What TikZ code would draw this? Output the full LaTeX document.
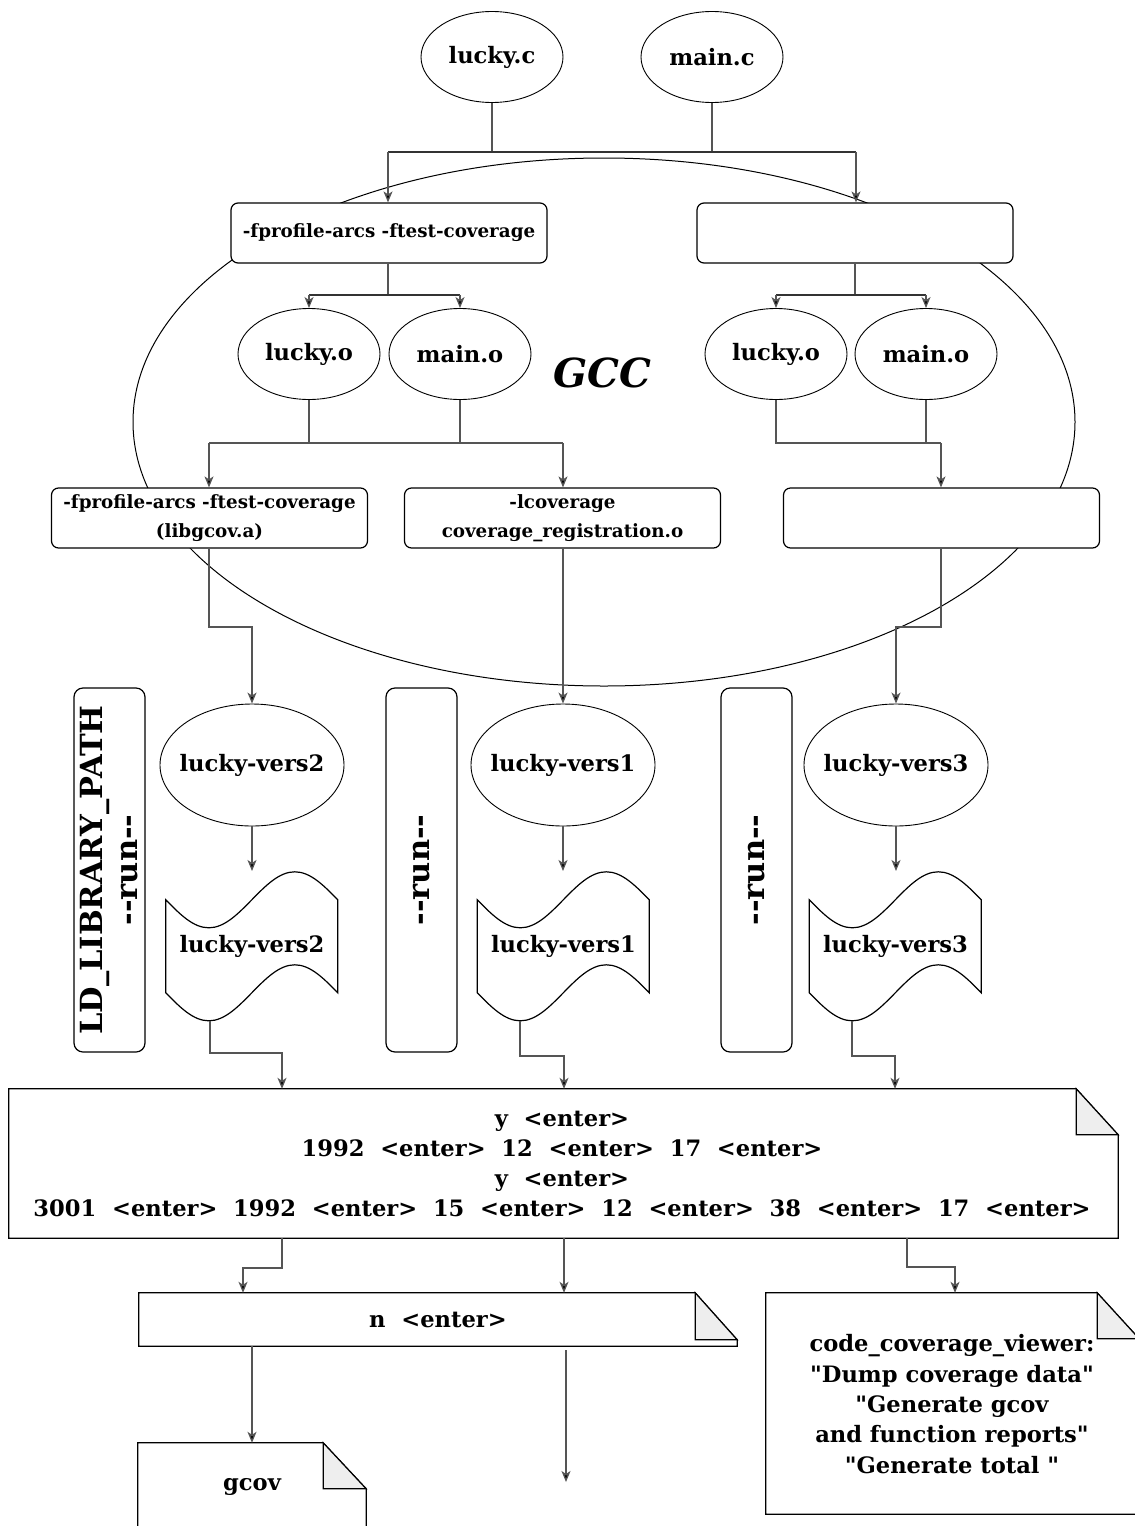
\documentclass[tikz,border=0pt]{standalone}
\usepackage{fontspec}
\setmainfont{DejaVu Serif}
\newfontfamily\dv{DejaVu Serif}
\usetikzlibrary{shapes.geometric,arrows.meta,calc}
\definecolor{lc}{HTML}{555555}
\definecolor{foldc}{HTML}{EEEEEE}
\begin{document}
\begin{tikzpicture}[x=1pt,y=-1pt,
  txt/.style={font=\dv\bfseries\fontsize{22.6}{30.3}\selectfont,align=center,inner sep=0pt},
  stxt/.style={font=\dv\bfseries\fontsize{18.3}{29}\selectfont,align=center,inner sep=0pt},
  ell/.style={ellipse,draw,line width=0.9pt,fill=white,minimum width=142pt,minimum height=91pt,inner sep=0pt,txt},
  bell/.style={ellipse,draw,line width=0.9pt,fill=white,minimum width=184pt,minimum height=122pt,inner sep=0pt,txt},
  rbox/.style={rectangle,rounded corners=7pt,draw,line width=1.2pt,fill=white,minimum width=316pt,minimum height=60pt,inner sep=0pt,stxt},
  vbox/.style={rectangle,rounded corners=9pt,draw,line width=1.2pt,fill=white,minimum width=364pt,minimum height=71pt,inner sep=0pt,rotate=90,
     font=\dv\bfseries\fontsize{30.5}{35}\selectfont,align=center},
  plain/.style={rectangle,draw=none,inner sep=0pt,txt},
  shp/.style={draw,line width=1.2pt,fill=white},
  fld/.style={draw,line width=1.2pt,fill=foldc},
  conn/.style={draw=lc,line width=1.3pt},
  bar/.style={draw=black!80,line width=2.4pt},
  arr/.style={draw=lc,line width=1.3pt,-{Stealth[length=11pt,width=9pt,inset=3pt,fill=black]}},
]
\useasboundingbox (0,0) rectangle (1135,1526);
\clip (0,0) rectangle (1135,1526);
\fill[white] (0,0) rectangle (1135,1526);

% GCC ellipse (behind)
\node[ellipse,draw,line width=1pt,minimum width=942pt,minimum height=528pt,inner sep=0pt] (gcc) at (604,422) {};
\node[font=\dv\bfseries\itshape\fontsize{40}{40}\selectfont,inner sep=0pt] (gcclab) at (602,373) {GCC};

% sources
\node[ell] (luckyc) at (492,57) {lucky.c};
\node[ell] (mainc) at (712,57) {main.c};

% compile boxes
\node[rbox] (box1) at (389,233) {-fprofile-arcs -ftest-coverage};
\node[rbox] (box2) at (855,233) {};

% objects
\node[ell] (lo1) at (309,354) {lucky.o};
\node[ell] (mo1) at (460,354) {main.o};
\node[ell] (lo2) at (776,354) {lucky.o};
\node[ell] (mo2) at (926,354) {main.o};

% link boxes
\node[rbox] (box3) at (209.5,518) {-fprofile-arcs -ftest-coverage\\(libgcov.a)};
\node[rbox] (box4) at (562.5,518) {-lcoverage\\coverage\_registration.o};
\node[rbox] (box5) at (941.5,518) {};

% binaries
\node[bell] (v2) at (252,765) {};
\node[bell] (v1) at (563,765) {};
\node[bell] (v3) at (896,765) {};
\node[txt] (v2l) at (v2) {lucky-vers2};
\node[txt] (v1l) at (v1) {lucky-vers1};
\node[txt] (v3l) at (v3) {lucky-vers3};

% run boxes
\node[vbox] (ld) at (109.5,870) {LD\_LIBRARY\_PATH\\-{}-run-{}-};
\node[vbox] (run1) at (421.5,870) {-{}-run-{}-};
\node[vbox] (run2) at (756.5,870) {-{}-run-{}-};

% tapes
\newcommand\tapeshape[1]{%
  \draw[shp] (#1.north west) ++(0,28) sin ++(43,28) cos ++(43,-28) sin ++(43,-28) cos ++(43,28)
    -- ++(0,93) sin ++(-43,-28) cos ++(-43,28) sin ++(-43,28) cos ++(-43,-28) -- cycle;}
\node[plain,minimum width=172pt,minimum height=149pt] (t2) at (252,946.5) {};
\node[plain,minimum width=172pt,minimum height=149pt] (t1) at (563.5,946.5) {};
\node[plain,minimum width=172pt,minimum height=149pt] (t3) at (895.5,946.5) {};
\tapeshape{t2}\tapeshape{t1}\tapeshape{t3}
\node[txt] (t2l) at (t2) {lucky-vers2};
\node[txt] (t1l) at (t1) {lucky-vers1};
\node[txt] (t3l) at (t3) {lucky-vers3};

% notes
\newcommand\noteshape[3]{% node, fold w, fold h
  \draw[shp] (#1.north west) -- ([xshift=-#2pt]#1.north east) -- ([yshift=-#3pt]#1.north east) -- (#1.south east) -- (#1.south west) -- cycle;
  \draw[fld] ([xshift=-#2pt]#1.north east) -- ([xshift=-#2pt,yshift=-#3pt]#1.north east) -- ([yshift=-#3pt]#1.north east) -- cycle;}
\node[plain,minimum width=1109pt,minimum height=149pt] (inp) at (563.5,1163.5) {};
\noteshape{inp}{42}{46}
\node[txt] (inpl) at (562,1164) {y~~<enter>\\1992~~<enter>~~12~~<enter>~~17~~<enter>\\y~~<enter>\\3001~~<enter>~~1992~~<enter>~~15~~<enter>~~12~~<enter>~~38~~<enter>~~17~~<enter>};

\node[plain,minimum width=598pt,minimum height=53pt] (nn) at (438,1319.5) {};
\noteshape{nn}{42}{47}
\node[txt] (nnl) at (438,1319.5) {n~~<enter>};

\node[plain,minimum width=228pt,minimum height=110pt] (gc) at (252,1498) {};
\noteshape{gc}{43}{46}
\node[txt] (gcl) at (252,1487) {gcov};

\node[plain,minimum width=373pt,minimum height=221pt] (cv) at (952.5,1403.5) {};
\noteshape{cv}{42}{46}
\node[txt] (cvl) at (952,1404) {code\_coverage\_viewer:\\"Dump coverage data"\\"Generate gcov\\and function reports"\\"Generate total "};

% ---- connectors ----
\coordinate (barL) at (388,152);
\coordinate (barR) at (856,152);
\draw[conn] (luckyc.south) -- (luckyc.south |- barL);
\draw[conn] (mainc.south) -- (mainc.south |- barL);
\draw[bar] (barL) -- (barR);
\draw[arr] (barL) -- (box1.north -| barL);
\draw[arr] (barR) -- (box2.north -| barR);

\coordinate (b1) at (388,295);
\draw[conn] (box1.south -| b1) -- (b1);
\draw[bar,line width=1.8pt] (lo1.north |- b1) -- (mo1.north |- b1);
\draw[arr] (lo1.north |- b1) -- (lo1.north);
\draw[arr] (mo1.north |- b1) -- (mo1.north);

\coordinate (b2) at (855,295);
\draw[conn] (box2.south -| b2) -- (b2);
\draw[bar,line width=1.8pt] (lo2.north |- b2) -- (mo2.north |- b2);
\draw[arr] (lo2.north |- b2) -- (lo2.north);
\draw[arr] (mo2.north |- b2) -- (mo2.north);

\coordinate (b3) at (209,443);
\coordinate (b4) at (563,443);
\draw[conn] (lo1.south) -- (lo1.south |- b3);
\draw[conn] (mo1.south) -- (mo1.south |- b3);
\draw[conn] (b3) -- (b4);
\draw[arr] (b3) -- (box3.north -| b3);
\draw[arr] (b4) -- (box4.north -| b4);

\coordinate (b5) at (941,443);
\draw[conn] (lo2.south) -- (lo2.south |- b5) -- (b5);
\draw[conn] (mo2.south) -- (mo2.south |- b5);
\draw[arr] (b5) -- (box5.north -| b5);

\coordinate (c3) at (209,627);
\draw[arr] (box3.south -| c3) -- (c3) -| (v2.north);
\draw[arr] (box4.south -| v1.north) -- (v1.north);
\coordinate (c5) at (941,627);
\draw[arr] (box5.south -| c5) -- (c5) -| (v3.north);

\draw[arr] (v2.south) -- (t2.north |- 0,871);
\draw[arr] (v1.south) -- (v1.south |- 0,871);
\draw[arr] (v3.south) -- (v3.south |- 0,871);

\coordinate (d2) at (210,1053);
\coordinate (d1) at (520,1056);
\coordinate (d3) at (852,1056);
\draw[arr] (d2 |- 0,1021) -- (d2) -| (inp.north -| 282,0);
\draw[arr] (d1 |- 0,1021) -- (d1) -| (inp.north -| 564,0);
\draw[arr] (d3 |- 0,1021) -- (d3) -| (inp.north -| 895,0);

\coordinate (e1) at (282,1268);
\coordinate (e3) at (907,1267);
\draw[arr] (inp.south -| e1) -- (e1) -| (nn.north -| 243,0);
\draw[arr] (inp.south -| 564,0) -- (nn.north -| 564,0);
\draw[arr] (inp.south -| e3) -- (e3) -| (cv.north -| 955,0);

\coordinate (f2) at (566,1482);
\draw[arr] (nn.south -| gc.north) -- (gc.north);
\draw[arr] (nn.south -| f2) ++(0,4) -- (f2);
\end{tikzpicture}
\end{document}
